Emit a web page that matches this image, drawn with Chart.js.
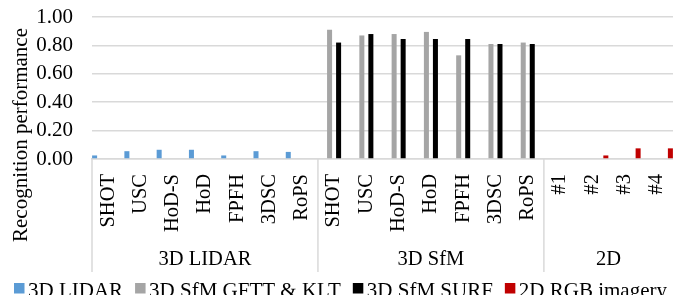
<!DOCTYPE html>
<html>
<head>
<meta charset="utf-8">
<script src="https://cdn.jsdelivr.net/npm/chart.js@4"></script>
<style>
  html, body { margin: 0; padding: 0; background: #fff; overflow: hidden; }
</style>
</head>
<body>
<canvas id="chart" width="673" height="295"></canvas>
<script>
// categories (inner level) and groups (outer level)
const categories = ['SHOT', 'USC', 'HoD-S', 'HoD', 'FPFH', '3DSC', 'RoPS',
                    'SHOT', 'USC', 'HoD-S', 'HoD', 'FPFH', '3DSC', 'RoPS',
                    '#1', '#2', '#3', '#4'];
const groups = ['3D LIDAR', '3D SfM', '2D'];
const groupSizes = [7, 7, 4];
const yTicks = [0, 0.2, 0.4, 0.6, 0.8, 1.0];

// series values, null where a series has no bar
const lidar = [0.025, 0.055, 0.065, 0.065, 0.025, 0.055, 0.05,
               null, null, null, null, null, null, null,
               null, null, null, null];
const sfmGftt = [null, null, null, null, null, null, null,
                 0.91, 0.87, 0.88, 0.895, 0.73, 0.81, 0.82,
                 null, null, null, null];
const sfmSurf = [null, null, null, null, null, null, null,
                 0.82, 0.88, 0.845, 0.845, 0.845, 0.81, 0.81,
                 null, null, null, null];
const rgb = [null, null, null, null, null, null, null,
             null, null, null, null, null, null, null,
             0, 0.025, 0.075, 0.075];

const FONT = 'Liberation Serif';

// group separators, group names, y title and the legend row
const decor = {
  id: 'decor',
  afterDraw(chart) {
    const { ctx, scales: { x } } = chart;
    const half = (x.getPixelForValue(1) - x.getPixelForValue(0)) / 2;
    ctx.save();
    ctx.strokeStyle = '#d9d9d9';
    ctx.lineWidth = 1.5;
    ctx.fillStyle = '#000';
    ctx.font = '20.5px "' + FONT + '"';
    ctx.textAlign = 'center';
    ctx.textBaseline = 'middle';
    let start = 0;
    groups.forEach((g, i) => {
      const left = x.getPixelForValue(start) - half;
      const right = x.getPixelForValue(start + groupSizes[i] - 1) + half;
      ctx.beginPath();
      ctx.moveTo(left, x.top);
      ctx.lineTo(left, x.bottom - 2);
      ctx.stroke();
      ctx.fillText(g, (left + right) / 2, x.top + 101);
      start += groupSizes[i];
    });

    // legend (left aligned like the original, last item runs off the edge)
    ctx.font = '21px "' + FONT + '"';
    ctx.textAlign = 'left';
    ctx.textBaseline = 'alphabetic';
    const box = 10.5, gap = 3.5, sep = 12;
    let lx = 14;
    chart.data.datasets.forEach(d => {
      ctx.fillStyle = d.backgroundColor;
      ctx.fillRect(lx, 283, box, box);
      ctx.fillStyle = '#000';
      ctx.fillText(d.label, lx + box + gap, 297);
      lx += box + gap + ctx.measureText(d.label).width + sep;
    });

    ctx.translate(21, 135);
    ctx.rotate(-Math.PI / 2);
    ctx.textAlign = 'center';
    ctx.textBaseline = 'middle';
    ctx.font = '21px "' + FONT + '"';
    ctx.fillText('Recognition performance', 0, 0);
    ctx.restore();
  }
};

const barOpts = { categoryPercentage: 1.118, barPercentage: 0.556, borderWidth: 0 };

new Chart(document.getElementById('chart'), {
  type: 'bar',
  data: {
    labels: categories,
    datasets: [
      { label: '3D LIDAR', data: lidar, backgroundColor: '#5b9bd5', ...barOpts },
      { label: '3D SfM GFTT & KLT', data: sfmGftt, backgroundColor: '#a5a5a5', ...barOpts },
      { label: '3D SfM SURF', data: sfmSurf, backgroundColor: '#000000', ...barOpts },
      { label: '2D RGB imagery', data: rgb, backgroundColor: '#c00000', ...barOpts }
    ]
  },
  options: {
    responsive: false,
    animation: false,
    layout: { padding: { top: 17, left: 0, right: 0, bottom: 21 } },
    plugins: {
      legend: { display: false },
      tooltip: { enabled: false }
    },
    scales: {
      x: {
        grid: { display: false },
        border: { display: true, color: '#d9d9d9', width: 1.5 },
        ticks: {
          color: '#000', font: { family: FONT, size: 20.5 },
          minRotation: 90, maxRotation: 90, autoSkip: false, padding: 7
        },
        afterFit: s => { s.height = 115; s.paddingLeft = 0; s.paddingRight = 0; }
      },
      y: {
        min: 0, max: 1,
        afterBuildTicks: s => { s.ticks = yTicks.map(v => ({ value: v })); },
        grid: { color: '#d9d9d9', lineWidth: 1.5, drawTicks: false },
        border: { display: false },
        ticks: {
          color: '#000', font: { family: FONT, size: 21 }, padding: 19, autoSkip: false,
          callback: v => v.toFixed(2)
        },
        afterFit: s => { s.width = 92; s.paddingTop = 0; s.paddingBottom = 0; }
      }
    }
  },
  plugins: [decor]
});
</script>
</body>
</html>
